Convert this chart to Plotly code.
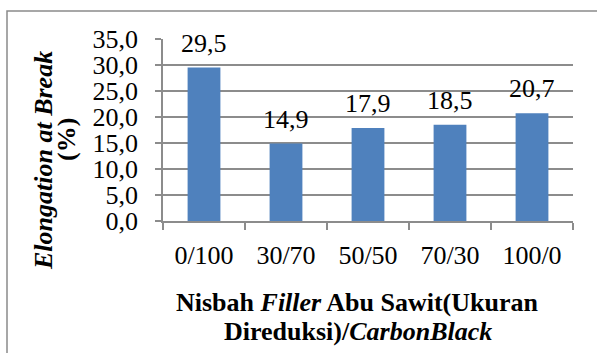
import plotly.graph_objects as go

ratios = ["0/100", "30/70", "50/50", "70/30", "100/0"]
elongation = [29.5, 14.9, 17.9, 18.5, 20.7]
y_ticks = [0, 5, 10, 15, 20, 25, 30, 35]

FONT = "Liberation Serif, Times New Roman, serif"
FS = 26
BAR = "#4F81BD"
GRID = "#8c8c8c"

fig = go.Figure(
    go.Bar(
        x=ratios,
        y=elongation,
        marker=dict(color=BAR, line=dict(width=0)),
        cliponaxis=False,
    )
)

# Value labels above each bar, written with comma decimals
for cat, val in zip(ratios, elongation):
    fig.add_annotation(
        x=cat, y=val, xref="x", yref="y",
        text=f"{val:.1f}".replace(".", ","),
        showarrow=False, yanchor="bottom", yshift=8,
        font=dict(family=FONT, size=FS, color="black"),
    )

W, H = 597, 353
L, R, T, B = 163, 24, 39, 132
PW, PH = W - L - R, H - T - B


def px(x):
    return (x - L) / PW


def py(y):
    return (H - B - y) / PH


fig.update_layout(
    width=W,
    height=H,
    margin=dict(l=L, r=R, t=T, b=B),
    paper_bgcolor="white",
    plot_bgcolor="white",
    separators=",.",
    bargap=0.6,
    showlegend=False,
    font=dict(family=FONT, size=FS, color="black"),
    xaxis=dict(
        type="category",
        tickson="boundaries",
        ticks="outside",
        ticklen=7,
        tickcolor=GRID,
        tickwidth=1.5,
        showline=True,
        linecolor=GRID,
        linewidth=1.5,
        showgrid=False,
        tickfont=dict(family=FONT, size=FS),
        ticklabelstandoff=10,
    ),
    yaxis=dict(
        range=[0, 35],
        tickvals=y_ticks,
        tickformat=".1f",
        ticks="outside",
        ticklen=6,
        tickcolor=GRID,
        tickwidth=1.5,
        showline=True,
        linecolor=GRID,
        linewidth=1.5,
        showgrid=True,
        gridcolor=GRID,
        gridwidth=1.5,
        zeroline=False,
        tickfont=dict(family=FONT, size=FS),
        ticklabelstandoff=12,
    ),
)

# Chart frame (top and left edges visible)
fig.add_shape(
    type="rect", xref="paper", yref="paper",
    x0=px(7), x1=px(W + 10), y0=py(H + 10), y1=py(11),
    line=dict(color="#8a8a8a", width=1.5), fillcolor="rgba(0,0,0,0)", layer="below",
)

# Axis titles
fig.add_annotation(
    text="<b><i>Elongation at Break</i></b>", textangle=-90,
    xref="paper", yref="paper", x=px(43), y=py(161),
    showarrow=False, font=dict(family=FONT, size=FS), xanchor="center", yanchor="middle",
)
fig.add_annotation(
    text="<b>(%)</b>", textangle=-90,
    xref="paper", yref="paper", x=px(66), y=py(140),
    showarrow=False, font=dict(family=FONT, size=FS), xanchor="center", yanchor="middle",
)
fig.add_annotation(
    text="<b>Nisbah <i>Filler</i> Abu Sawit(Ukuran</b>",
    xref="paper", yref="paper", x=px(357), y=py(302),
    showarrow=False, font=dict(family=FONT, size=FS), xanchor="center", yanchor="middle",
)
fig.add_annotation(
    text="<b>Direduksi)/<i>CarbonBlack</i></b>",
    xref="paper", yref="paper", x=px(358), y=py(331),
    showarrow=False, font=dict(family=FONT, size=FS), xanchor="center", yanchor="middle",
)

fig.write_html("out.html")
